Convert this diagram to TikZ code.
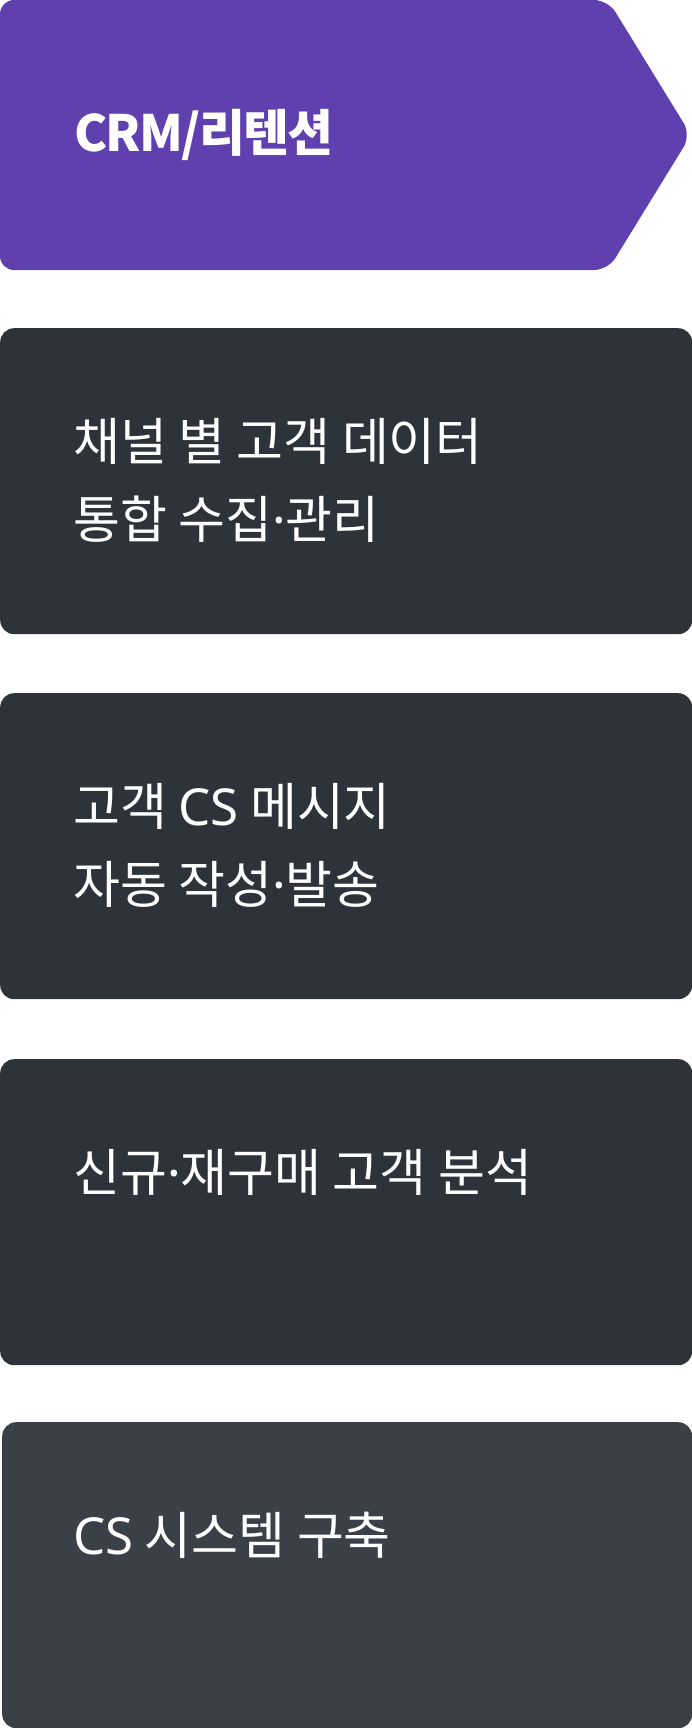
\documentclass[tikz,border=0pt]{standalone}
\usepackage{fontspec}
\setmainfont{Noto Sans CJK KR}
\newfontfamily\latinfont{Noto Sans}
\newcommand{\mdot}{{\latinfont ·}}
\usepackage{tikz}
\usetikzlibrary{positioning}
\definecolor{crmpurple}{RGB}{95,64,174}
\definecolor{carddark}{RGB}{46,51,58}
\definecolor{cardgrey}{RGB}{59,64,72}

\begin{document}
\begin{tikzpicture}[x=1pt,y=-1pt,node distance=80pt]
\tikzstyle{card}=[rectangle,rounded corners=14pt,fill=carddark,draw=none,minimum width=692pt,minimum height=306pt,anchor=north west,inner sep=0pt]
\tikzstyle{cardtext}=[anchor=north west,inner sep=0pt,text=white,align=left,font=\fontsize{51}{78}\selectfont]
\useasboundingbox (0,0) rectangle (692,1728);
% header arrow
\fill[crmpurple,rounded corners=14pt] (0,0) -- (608,0) -- (691,135) -- (608,270) -- (0,270) -- cycle;
\node[anchor=west,inner sep=0pt,text=white,font=\fontsize{50}{54}\selectfont\bfseries\addfontfeature{LetterSpace=-3.5}] (title) at (74,135) {CRM/리텐션};
% cards
\node[card] (c1) at (0,328) {};
\node[card] (c2) at (0,693) {};
\node[card] (c3) at (0,1059) {};
\node[card,fill=cardgrey,minimum width=690pt] (c4) at (2,1422) {};
\node[cardtext] (t1) [below right=90pt and 73pt of c1.north west] {채널 별 고객 데이터\\통합 수집\mdot 관리};
\node[cardtext] (t2) [below right=90pt and 73pt of c2.north west] {고객 {\latinfont CS} 메시지\\자동 작성\mdot 발송};
\node[cardtext] (t3) [below right=90pt and 73pt of c3.north west] {신규\mdot 재구매 고객 분석};
\node[cardtext] (t4) [below right=90pt and 71pt of c4.north west] {{\latinfont CS} 시스템 구축};
\end{tikzpicture}
\end{document}
